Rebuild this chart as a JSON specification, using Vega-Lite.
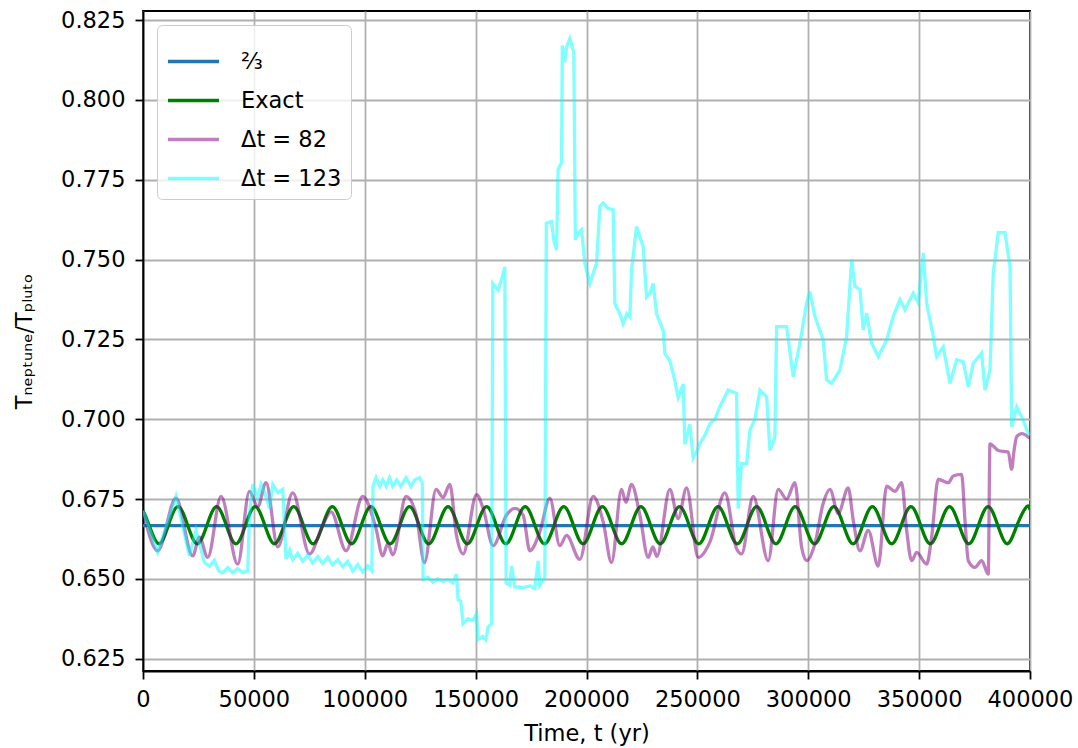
{
"$schema":"https://vega.github.io/schema/vega-lite/v6.json",
"width":887,"height":660,
"autosize":{"type":"none"},
"padding":{"left":143,"top":11,"right":48,"bottom":77},
"background":"white",
"data":{"values":[
{"s":"a","t":0,"v":0.66667},{"s":"a","t":400000,"v":0.66667},
{"s":"e","t":0,"v":0.6714},
{"s":"e","t":2743,"v":0.6668},{"s":"e","t":7092,"v":0.661},{"s":"e","t":11441,"v":0.6668},{"s":"e","t":15790,"v":0.6726},
{"s":"e","t":20139,"v":0.6668},{"s":"e","t":24488,"v":0.661},{"s":"e","t":28837,"v":0.6668},{"s":"e","t":33186,"v":0.6726},
{"s":"e","t":37535,"v":0.6668},{"s":"e","t":41884,"v":0.661},{"s":"e","t":46233,"v":0.6668},{"s":"e","t":50582,"v":0.6726},
{"s":"e","t":54931,"v":0.6668},{"s":"e","t":59280,"v":0.661},{"s":"e","t":63629,"v":0.6668},{"s":"e","t":67978,"v":0.6726},
{"s":"e","t":72327,"v":0.6668},{"s":"e","t":76676,"v":0.661},{"s":"e","t":81025,"v":0.6668},{"s":"e","t":85374,"v":0.6726},
{"s":"e","t":89723,"v":0.6668},{"s":"e","t":94072,"v":0.661},{"s":"e","t":98421,"v":0.6668},{"s":"e","t":102770,"v":0.6726},
{"s":"e","t":107119,"v":0.6668},{"s":"e","t":111468,"v":0.661},{"s":"e","t":115817,"v":0.6668},{"s":"e","t":120166,"v":0.6726},
{"s":"e","t":124515,"v":0.6668},{"s":"e","t":128864,"v":0.661},{"s":"e","t":133213,"v":0.6668},{"s":"e","t":137562,"v":0.6726},
{"s":"e","t":141911,"v":0.6668},{"s":"e","t":146260,"v":0.661},{"s":"e","t":150609,"v":0.6668},{"s":"e","t":154958,"v":0.6726},
{"s":"e","t":159307,"v":0.6668},{"s":"e","t":163656,"v":0.661},{"s":"e","t":168005,"v":0.6668},{"s":"e","t":172354,"v":0.6726},
{"s":"e","t":176703,"v":0.6668},{"s":"e","t":181052,"v":0.661},{"s":"e","t":185401,"v":0.6668},{"s":"e","t":189750,"v":0.6726},
{"s":"e","t":194099,"v":0.6668},{"s":"e","t":198448,"v":0.661},{"s":"e","t":202797,"v":0.6668},{"s":"e","t":207146,"v":0.6726},
{"s":"e","t":211495,"v":0.6668},{"s":"e","t":215844,"v":0.661},{"s":"e","t":220193,"v":0.6668},{"s":"e","t":224542,"v":0.6726},
{"s":"e","t":228891,"v":0.6668},{"s":"e","t":233240,"v":0.661},{"s":"e","t":237589,"v":0.6668},{"s":"e","t":241938,"v":0.6726},
{"s":"e","t":246287,"v":0.6668},{"s":"e","t":250636,"v":0.661},{"s":"e","t":254985,"v":0.6668},{"s":"e","t":259334,"v":0.6726},
{"s":"e","t":263683,"v":0.6668},{"s":"e","t":268032,"v":0.661},{"s":"e","t":272381,"v":0.6668},{"s":"e","t":276730,"v":0.6726},
{"s":"e","t":281079,"v":0.6668},{"s":"e","t":285428,"v":0.661},{"s":"e","t":289777,"v":0.6668},{"s":"e","t":294126,"v":0.6726},
{"s":"e","t":298475,"v":0.6668},{"s":"e","t":302824,"v":0.661},{"s":"e","t":307173,"v":0.6668},{"s":"e","t":311522,"v":0.6726},
{"s":"e","t":315871,"v":0.6668},{"s":"e","t":320220,"v":0.661},{"s":"e","t":324569,"v":0.6668},{"s":"e","t":328918,"v":0.6726},
{"s":"e","t":333267,"v":0.6668},{"s":"e","t":337616,"v":0.661},{"s":"e","t":341965,"v":0.6668},{"s":"e","t":346314,"v":0.6726},
{"s":"e","t":350663,"v":0.6668},{"s":"e","t":355012,"v":0.661},{"s":"e","t":359361,"v":0.6668},{"s":"e","t":363710,"v":0.6726},
{"s":"e","t":368059,"v":0.6668},{"s":"e","t":372408,"v":0.661},{"s":"e","t":376757,"v":0.6668},{"s":"e","t":381106,"v":0.6726},
{"s":"e","t":385455,"v":0.6668},{"s":"e","t":389804,"v":0.661},{"s":"e","t":394153,"v":0.6668},{"s":"e","t":398502,"v":0.6726},
{"s":"e","t":400000,"v":0.6716},
{"s":"p","t":0,"v":0.6713},{"s":"p","t":6631,"v":0.6588},{"s":"p","t":14886,"v":0.6753},{"s":"p","t":22420,"v":0.6572},
{"s":"p","t":25442,"v":0.6631},{"s":"p","t":29186,"v":0.6567},{"s":"p","t":35186,"v":0.6758},{"s":"p","t":42719,"v":0.6546},
{"s":"p","t":47997,"v":0.6774},{"s":"p","t":51741,"v":0.6726},{"s":"p","t":55485,"v":0.6801},{"s":"p","t":60763,"v":0.66},
{"s":"p","t":67530,"v":0.6769},{"s":"p","t":75063,"v":0.6578},{"s":"p","t":81063,"v":0.6668},{"s":"p","t":84807,"v":0.671},
{"s":"p","t":91573,"v":0.6588},{"s":"p","t":99107,"v":0.6758},{"s":"p","t":105106,"v":0.6657},{"s":"p","t":108129,"v":0.6572},
{"s":"p","t":110385,"v":0.661},{"s":"p","t":112640,"v":0.6575},{"s":"p","t":118639,"v":0.6758},{"s":"p","t":123150,"v":0.6702},
{"s":"p","t":126940,"v":0.6551},{"s":"p","t":132172,"v":0.678},{"s":"p","t":135330,"v":0.6755},{"s":"p","t":138352,"v":0.6796},
{"s":"p","t":141375,"v":0.6636},{"s":"p","t":144352,"v":0.6578},{"s":"p","t":150397,"v":0.6764},{"s":"p","t":153374,"v":0.6721},
{"s":"p","t":157885,"v":0.6604},{"s":"p","t":163930,"v":0.67},{"s":"p","t":167675,"v":0.6721},{"s":"p","t":171418,"v":0.67},
{"s":"p","t":174440,"v":0.6588},{"s":"p","t":178951,"v":0.6647},{"s":"p","t":183462,"v":0.6753},{"s":"p","t":187973,"v":0.6604},
{"s":"p","t":190995,"v":0.6636},{"s":"p","t":196995,"v":0.6561},{"s":"p","t":202995,"v":0.6758},{"s":"p","t":207506,"v":0.6679},
{"s":"p","t":211295,"v":0.6551},{"s":"p","t":215806,"v":0.678},{"s":"p","t":217746,"v":0.674},{"s":"p","t":220317,"v":0.6796},
{"s":"p","t":224063,"v":0.67},{"s":"p","t":227807,"v":0.6567},{"s":"p","t":229925,"v":0.66},{"s":"p","t":231730,"v":0.657},
{"s":"p","t":237596,"v":0.678},{"s":"p","t":241339,"v":0.6689},{"s":"p","t":245129,"v":0.6785},{"s":"p","t":250361,"v":0.6567},
{"s":"p","t":255640,"v":0.6615},{"s":"p","t":262406,"v":0.6769},{"s":"p","t":267684,"v":0.6594},{"s":"p","t":269939,"v":0.6578},
{"s":"p","t":275171,"v":0.6758},{"s":"p","t":281938,"v":0.6557},{"s":"p","t":286449,"v":0.678},{"s":"p","t":290239,"v":0.675},
{"s":"p","t":293983,"v":0.6801},{"s":"p","t":297006,"v":0.6599},{"s":"p","t":299261,"v":0.6557},{"s":"p","t":303006,"v":0.661},
{"s":"p","t":306750,"v":0.6737},{"s":"p","t":309772,"v":0.678},{"s":"p","t":313517,"v":0.6705},{"s":"p","t":318027,"v":0.6785},
{"s":"p","t":320283,"v":0.6684},{"s":"p","t":323306,"v":0.6588},{"s":"p","t":327050,"v":0.6652},{"s":"p","t":331561,"v":0.654},
{"s":"p","t":335351,"v":0.679},{"s":"p","t":339095,"v":0.6774},{"s":"p","t":342117,"v":0.6801},{"s":"p","t":344373,"v":0.6652},
{"s":"p","t":346628,"v":0.6557},{"s":"p","t":348884,"v":0.6583},{"s":"p","t":353394,"v":0.6546},{"s":"p","t":355650,"v":0.6631},
{"s":"p","t":358627,"v":0.6812},{"s":"p","t":363138,"v":0.6801},{"s":"p","t":365394,"v":0.6822},{"s":"p","t":369183,"v":0.6827},
{"s":"p","t":370672,"v":0.6684},{"s":"p","t":372160,"v":0.6557},{"s":"p","t":375183,"v":0.6536},{"s":"p","t":378205,"v":0.6557},
{"s":"p","t":381180,"v":0.6515},{"s":"p","t":381947,"v":0.6923},{"s":"p","t":385690,"v":0.6902},{"s":"p","t":390200,"v":0.6897},
{"s":"p","t":391734,"v":0.6843},{"s":"p","t":392772,"v":0.69},{"s":"p","t":393990,"v":0.6945},{"s":"p","t":396245,"v":0.6955},
{"s":"p","t":400000,"v":0.694},
{"s":"c","t":0,"v":0.6713},{"s":"c","t":6631,"v":0.6583},{"s":"c","t":14886,"v":0.6758},{"s":"c","t":20931,"v":0.6572},
{"s":"c","t":23908,"v":0.6652},{"s":"c","t":27698,"v":0.6551},{"s":"c","t":29953,"v":0.654},{"s":"c","t":32209,"v":0.6558},
{"s":"c","t":34149,"v":0.6525},{"s":"c","t":35953,"v":0.6519},{"s":"c","t":38209,"v":0.6535},{"s":"c","t":40464,"v":0.652},
{"s":"c","t":42720,"v":0.6532},{"s":"c","t":44975,"v":0.652},{"s":"c","t":47231,"v":0.6524},{"s":"c","t":47997,"v":0.67},
{"s":"c","t":49486,"v":0.6796},{"s":"c","t":51741,"v":0.6753},{"s":"c","t":53230,"v":0.6796},{"s":"c","t":54900,"v":0.677},
{"s":"c","t":57019,"v":0.6721},{"s":"c","t":58508,"v":0.6796},{"s":"c","t":60763,"v":0.677},{"s":"c","t":63019,"v":0.678},
{"s":"c","t":64507,"v":0.6562},{"s":"c","t":66177,"v":0.659},{"s":"c","t":67530,"v":0.656},{"s":"c","t":69786,"v":0.658},
{"s":"c","t":72041,"v":0.6555},{"s":"c","t":74297,"v":0.6575},{"s":"c","t":76552,"v":0.655},{"s":"c","t":78808,"v":0.657},
{"s":"c","t":81063,"v":0.6548},{"s":"c","t":83319,"v":0.6568},{"s":"c","t":85574,"v":0.6543},{"s":"c","t":87830,"v":0.656},
{"s":"c","t":90085,"v":0.6538},{"s":"c","t":92341,"v":0.6555},{"s":"c","t":94596,"v":0.6525},{"s":"c","t":96852,"v":0.6545},
{"s":"c","t":99107,"v":0.6522},{"s":"c","t":101363,"v":0.654},{"s":"c","t":103167,"v":0.6525},{"s":"c","t":103753,"v":0.679},
{"s":"c","t":105106,"v":0.6817},{"s":"c","t":106773,"v":0.679},{"s":"c","t":108129,"v":0.681},{"s":"c","t":109708,"v":0.679},
{"s":"c","t":111151,"v":0.6817},{"s":"c","t":112640,"v":0.679},{"s":"c","t":114445,"v":0.681},{"s":"c","t":116250,"v":0.679},
{"s":"c","t":118639,"v":0.6817},{"s":"c","t":120760,"v":0.679},{"s":"c","t":122564,"v":0.681},{"s":"c","t":124685,"v":0.6817},
{"s":"c","t":125948,"v":0.68},{"s":"c","t":126308,"v":0.6498},{"s":"c","t":128429,"v":0.6505},{"s":"c","t":130684,"v":0.649},
{"s":"c","t":132940,"v":0.65},{"s":"c","t":135195,"v":0.6492},{"s":"c","t":137451,"v":0.6498},{"s":"c","t":139706,"v":0.6488},
{"s":"c","t":141375,"v":0.6515},{"s":"c","t":142097,"v":0.6434},{"s":"c","t":143315,"v":0.643},{"s":"c","t":144353,"v":0.636},
{"s":"c","t":146473,"v":0.6375},{"s":"c","t":148865,"v":0.637},{"s":"c","t":150398,"v":0.6391},{"s":"c","t":151119,"v":0.631},
{"s":"c","t":153239,"v":0.632},{"s":"c","t":154593,"v":0.631},{"s":"c","t":155630,"v":0.6349},{"s":"c","t":157164,"v":0.636},
{"s":"c","t":157750,"v":0.7425},{"s":"c","t":160141,"v":0.7404},{"s":"c","t":161810,"v":0.744},{"s":"c","t":163163,"v":0.7477},
{"s":"c","t":163749,"v":0.6487},{"s":"c","t":165418,"v":0.648},{"s":"c","t":166185,"v":0.654},{"s":"c","t":167675,"v":0.6475},
{"s":"c","t":171419,"v":0.6473},{"s":"c","t":174441,"v":0.6478},{"s":"c","t":176696,"v":0.647},{"s":"c","t":178185,"v":0.6556},
{"s":"c","t":178951,"v":0.648},{"s":"c","t":181207,"v":0.6505},{"s":"c","t":181883,"v":0.7614},{"s":"c","t":184230,"v":0.7619},
{"s":"c","t":185267,"v":0.756},{"s":"c","t":186485,"v":0.753},{"s":"c","t":187207,"v":0.7782},{"s":"c","t":188741,"v":0.7803},
{"s":"c","t":189102,"v":0.817},{"s":"c","t":190230,"v":0.8118},{"s":"c","t":190997,"v":0.8165},{"s":"c","t":192485,"v":0.8191},
{"s":"c","t":194290,"v":0.8149},{"s":"c","t":194967,"v":0.7561},{"s":"c","t":196095,"v":0.7582},{"s":"c","t":197764,"v":0.7593},
{"s":"c","t":199253,"v":0.7488},{"s":"c","t":201508,"v":0.7425},{"s":"c","t":204531,"v":0.7488},{"s":"c","t":206019,"v":0.7666},
{"s":"c","t":207508,"v":0.7677},{"s":"c","t":209628,"v":0.766},{"s":"c","t":212019,"v":0.7656},{"s":"c","t":212786,"v":0.7362},
{"s":"c","t":215041,"v":0.733},{"s":"c","t":216530,"v":0.7299},{"s":"c","t":218199,"v":0.733},{"s":"c","t":219552,"v":0.732},
{"s":"c","t":220319,"v":0.7467},{"s":"c","t":222575,"v":0.7603},{"s":"c","t":225552,"v":0.754},{"s":"c","t":227086,"v":0.7383},
{"s":"c","t":228574,"v":0.7395},{"s":"c","t":230063,"v":0.7425},{"s":"c","t":231597,"v":0.733},{"s":"c","t":234574,"v":0.7278},
{"s":"c","t":235341,"v":0.7205},{"s":"c","t":237597,"v":0.7183},{"s":"c","t":239852,"v":0.712},{"s":"c","t":241341,"v":0.7068},
{"s":"c","t":243597,"v":0.711},{"s":"c","t":244364,"v":0.6921},{"s":"c","t":246620,"v":0.6984},{"s":"c","t":248108,"v":0.6879},
{"s":"c","t":249777,"v":0.69},{"s":"c","t":251130,"v":0.6924},{"s":"c","t":253386,"v":0.695},{"s":"c","t":255641,"v":0.6986},
{"s":"c","t":257897,"v":0.7},{"s":"c","t":260152,"v":0.7039},{"s":"c","t":263896,"v":0.7091},{"s":"c","t":267685,"v":0.7081},
{"s":"c","t":268407,"v":0.672},{"s":"c","t":269941,"v":0.6861},{"s":"c","t":272196,"v":0.6861},{"s":"c","t":273685,"v":0.6965},
{"s":"c","t":275941,"v":0.7},{"s":"c","t":278196,"v":0.7091},{"s":"c","t":281218,"v":0.707},{"s":"c","t":282707,"v":0.6902},
{"s":"c","t":284963,"v":0.6944},{"s":"c","t":285729,"v":0.729},{"s":"c","t":290240,"v":0.729},{"s":"c","t":293218,"v":0.7133},
{"s":"c","t":296241,"v":0.7238},{"s":"c","t":299263,"v":0.7364},{"s":"c","t":300752,"v":0.74},{"s":"c","t":303007,"v":0.7322},
{"s":"c","t":306752,"v":0.7248},{"s":"c","t":308285,"v":0.7123},{"s":"c","t":310541,"v":0.7112},{"s":"c","t":314285,"v":0.7154},
{"s":"c","t":317308,"v":0.7259},{"s":"c","t":319563,"v":0.75},{"s":"c","t":321052,"v":0.7416},{"s":"c","t":323308,"v":0.7406},
{"s":"c","t":324796,"v":0.728},{"s":"c","t":326330,"v":0.7332},{"s":"c","t":328585,"v":0.7238},{"s":"c","t":331563,"v":0.7196},
{"s":"c","t":335352,"v":0.7248},{"s":"c","t":338330,"v":0.7322},{"s":"c","t":341353,"v":0.7374},{"s":"c","t":343608,"v":0.7343},
{"s":"c","t":347352,"v":0.7395},{"s":"c","t":349608,"v":0.7364},{"s":"c","t":351864,"v":0.7521},{"s":"c","t":353397,"v":0.7364},
{"s":"c","t":356374,"v":0.7259},{"s":"c","t":357908,"v":0.7196},{"s":"c","t":360885,"v":0.7227},{"s":"c","t":363908,"v":0.7112},
{"s":"c","t":366930,"v":0.7186},{"s":"c","t":369908,"v":0.718},{"s":"c","t":372163,"v":0.7101},{"s":"c","t":374419,"v":0.7175},
{"s":"c","t":378208,"v":0.7207},{"s":"c","t":379697,"v":0.7091},{"s":"c","t":381953,"v":0.7154},{"s":"c","t":383441,"v":0.7458},
{"s":"c","t":385697,"v":0.7584},{"s":"c","t":388719,"v":0.7584},{"s":"c","t":390975,"v":0.7479},{"s":"c","t":391742,"v":0.6976},
{"s":"c","t":393997,"v":0.7039},{"s":"c","t":396253,"v":0.7007},{"s":"c","t":399230,"v":0.6955},{"s":"c","t":400000,"v":0.695}
]},
"encoding":{
 "x":{"field":"t","type":"quantitative","scale":{"domain":[0,400000],"nice":false,"zero":false},
  "axis":{"title":"Time, t (yr)","values":[0,50000,100000,150000,200000,250000,300000,350000,400000],"format":"d","titlePadding":12,"labelOverlap":false,"labelFlush":false}},
 "y":{"field":"v","type":"quantitative","scale":{"domain":[0.62115,0.82782],"nice":false,"zero":false},
  "axis":{"title":"Tₙₑₚₜᵤₙₑ/Tₚₗᵤₜₒ","values":[0.625,0.65,0.675,0.7,0.725,0.75,0.775,0.8,0.825],"format":".3f","labelPadding":10,"titlePadding":24,"labelOverlap":false,"labelFlush":false}},
 "color":{"field":"s","type":"nominal","scale":{"domain":["a","e","p","c"],"range":["#1f77b4","#008000","#800080","#00ffff"]},
  "legend":{"title":null,"orient":"top-left","offset":14,"symbolType":"stroke","symbolSize":2600,"symbolStrokeWidth":3.4,
   "labelFontSize":22.5,"labelFont":"DejaVu Sans","labelColor":"#000000","labelOffset":20,"padding":9,"rowPadding":0,
   "strokeColor":"#cccccc","fillColor":"rgba(255,255,255,0.8)","cornerRadius":5,
   "labelExpr":"{'a':'⅔','e':'Exact','p':'Δt = 82','c':'Δt = 123'}[datum.value]",
   "encode":{"symbols":{"update":{"opacity":{"signal":"datum.value == 'p' || datum.value == 'c' ? 0.5 : 1"}}}}}}
},
"layer":[
 {"transform":[{"filter":"datum.s == 'a'"}],"mark":{"type":"line","strokeWidth":3.3,"clip":true}},
 {"transform":[{"filter":"datum.s == 'e'"}],"mark":{"type":"line","strokeWidth":3.3,"interpolate":"natural","clip":true}},
 {"transform":[{"filter":"datum.s == 'p'"}],"mark":{"type":"line","strokeWidth":3.3,"opacity":0.5,"interpolate":"monotone","clip":true}},
 {"transform":[{"filter":"datum.s == 'c'"}],"mark":{"type":"line","strokeWidth":3.3,"opacity":0.5,"clip":true}}
],
"config":{
 "font":"DejaVu Sans",
 "view":{"stroke":"#000000","strokeWidth":1.8},
 "axis":{"labelFont":"DejaVu Sans","labelFontSize":22.5,"labelColor":"#000000","titleFont":"DejaVu Sans","titleFontSize":22.5,
  "titleFontWeight":"normal","titleColor":"#000000","tickColor":"#000000","tickSize":8,"tickWidth":1.8,"domainColor":"#000000",
  "domainWidth":1.8,"gridColor":"#b0b0b0","gridWidth":1.8,"labelPadding":9}
}
}
